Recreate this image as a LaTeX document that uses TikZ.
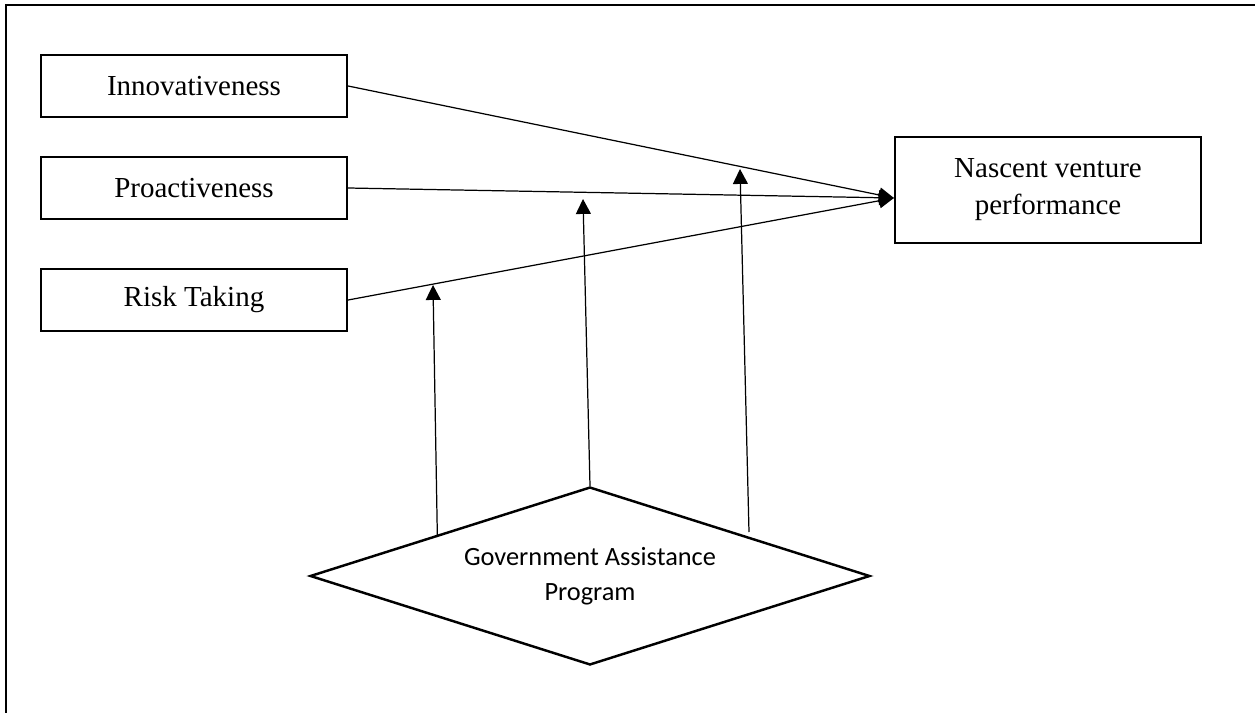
\documentclass[tikz,border=0pt]{standalone}
\usepackage{fontspec}
\setmainfont{Liberation Serif}
\newfontfamily\calibrifont{Carlito}
\usetikzlibrary{arrows.meta,shapes.geometric,calc}

\begin{document}
\begin{tikzpicture}[x=0.02cm,y=-0.02cm,
  box/.style={draw,line width=1.3pt,minimum width=6.12cm,minimum height=1.24cm,inner sep=0pt,font=\fontsize{16.5}{21}\selectfont},
  link/.style={line width=0.7pt,-{Triangle[length=8.5pt,width=8.5pt]}}]
        % page size and frame
        \useasboundingbox (0,0) rectangle (1255,713);
        \draw[line width=1.7pt] (6,713) -- (6,5) -- (1255,5);
        % dimension boxes
        \node[box] (inno) at (194,86) {Innovativeness};
        \node[box] (proa) at (194,188) {Proactiveness};
        \node[box] (risk) at (194,300) {Risk Taking};
        \node[box,minimum height=2.12cm,align=center] (perf) at (1048,190) {Nascent venture\\performance};
        % moderator
        \node[draw,diamond,line width=1.4pt,aspect=3.15,minimum width=11.2cm,minimum height=3.56cm,inner sep=0pt,align=center,font=\calibrifont\fontsize{15}{19.8}\selectfont] (gap) at (590,576) {Government Assistance\\Program};
        % direct effects
        \coordinate (in) at ($(perf.west)+(0,8)$);
        \draw[link] (inno.east) -- (in);
        \draw[link] (proa.east) -- (in);
        \draw[link] (risk.east) -- (in);
        % moderating effects
        \coordinate (m1) at (433,285);
        \coordinate (m2) at (583,199);
        \coordinate (m3) at (740,169);
        \coordinate (g1) at ($(gap.west)!0.457!(gap.north)$);
        \coordinate (g3) at (749,532);
        \draw[link] (g1) -- (m1);
        \draw[link] (gap.north) -- (m2);
        \draw[link] (g3) -- (m3);
\end{tikzpicture}
\end{document}
